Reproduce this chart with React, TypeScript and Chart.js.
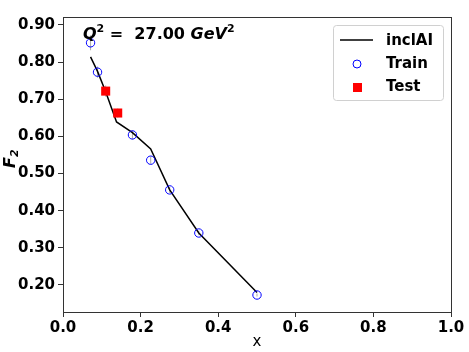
import React, { useEffect, useRef } from "react";
import { Chart, registerables } from "chart.js";

Chart.register(...registerables);

const lineX = [0.071, 0.089, 0.11, 0.138, 0.179, 0.226, 0.275, 0.35, 0.5];
const lineY = [0.814, 0.775, 0.72, 0.639, 0.61, 0.566, 0.456, 0.34, 0.18];

const trainX = [0.071, 0.089, 0.179, 0.226, 0.275, 0.35, 0.5];
const trainY = [0.852, 0.773, 0.604, 0.536, 0.456, 0.34, 0.173];
const trainErr = [0.02, 0.015, 0.012, 0.01, 0.008, 0.006, 0.004];

const testX = [0.11, 0.141];
const testY = [0.722, 0.663];
const testErr = [0.015, 0.012];

const yTicks = [0.2, 0.3, 0.4, 0.5, 0.6, 0.7, 0.8, 0.9];
const xTicks = [0.0, 0.2, 0.4, 0.6, 0.8, 1.0];

const FONT = "'DejaVu Sans', sans-serif";

export default function App() {
  const ref = useRef<HTMLCanvasElement>(null);
  useEffect(() => {
    document.body.style.margin = "0";
    const errPlugin = {
      id: "errs",
      beforeDatasetsDraw(chart: any) {
        const { ctx, scales } = chart;
        const xs = scales.x, ys = scales.y;
        ctx.save();
        ctx.strokeStyle = "#aaaaaa";
        ctx.lineWidth = 1;
        const draw = (X: number[], Y: number[], E: number[]) => {
          X.forEach((x, i) => {
            const px = xs.getPixelForValue(x);
            ctx.beginPath();
            ctx.moveTo(px, ys.getPixelForValue(Y[i] - E[i]));
            ctx.lineTo(px, ys.getPixelForValue(Y[i] + E[i]));
            ctx.stroke();
          });
        };
        draw(trainX, trainY, trainErr);
        draw(testX, testY, testErr);
        ctx.restore();
      },
    };
    const decor = {
      id: "decor",
      afterDraw(chart: any) {
        const { ctx, chartArea: a } = chart;
        ctx.save();
        // frame
        ctx.strokeStyle = "#333";
        ctx.lineWidth = 1;
        ctx.strokeRect(Math.round(a.left) + 0.5, Math.round(a.top) + 0.5, Math.round(a.right - a.left), Math.round(a.bottom - a.top));
        // title
        ctx.fillStyle = "#000";
        ctx.textBaseline = "alphabetic";
        ctx.textAlign = "left";
        let x = a.left + 20;
        const by = a.top + 22;
        const seg = (t: string, f: string, dy = 0) => {
          ctx.font = f;
          ctx.fillText(t, x, by + dy);
          x += ctx.measureText(t).width;
        };
        seg("Q", `italic bold 16px ${FONT}`);
        seg("2", `bold 11px ${FONT}`, -7);
        seg(" =  27.00 ", `bold 16px ${FONT}`);
        seg("GeV", `italic bold 16px ${FONT}`);
        seg("2", `bold 11px ${FONT}`, -7);
        // legend
        const lx = 333, ly = 25, lw = 110, lh = 75;
        ctx.beginPath();
        ctx.strokeStyle = "#d0d0d0";
        ctx.fillStyle = "rgba(255,255,255,0.8)";
        (ctx as any).roundRect(lx + 0.5, ly + 0.5, lw, lh, 3);
        ctx.fill();
        ctx.stroke();
        ctx.fillStyle = "#000";
        ctx.font = `bold 15px ${FONT}`;
        ctx.textBaseline = "middle";
        ctx.fillText("inclAI", 386, 41);
        ctx.fillText("Train", 386, 64);
        ctx.fillText("Test", 386, 87);
        ctx.strokeStyle = "#000";
        ctx.lineWidth = 1.5;
        ctx.beginPath();
        ctx.moveTo(340, 40);
        ctx.lineTo(373, 40);
        ctx.stroke();
        ctx.strokeStyle = "blue";
        ctx.lineWidth = 1;
        ctx.beginPath();
        ctx.arc(357, 64, 4, 0, Math.PI * 2);
        ctx.stroke();
        ctx.fillStyle = "red";
        ctx.fillRect(353, 83, 9, 9);
        // axis labels
        ctx.fillStyle = "#000";
        ctx.textAlign = "center";
        ctx.font = `15px ${FONT}`;
        ctx.fillText("x", (a.left + a.right) / 2, 342);
        ctx.save();
        ctx.translate(11, 160);
        ctx.rotate(-Math.PI / 2);
        ctx.font = `italic bold 16px ${FONT}`;
        ctx.textAlign = "left";
        ctx.fillText("F", -8, 0);
        const fw = ctx.measureText("F").width;
        ctx.font = `italic bold 11px ${FONT}`;
        ctx.fillText("2", -8 + fw, 4);
        ctx.restore();
        ctx.restore();
      },
    };
    const chart = new Chart(ref.current!, {
      type: "scatter",
      data: {
        datasets: [
          {
            label: "inclAI",
            data: lineX.map((x, i) => ({ x, y: lineY[i] })),
            showLine: true,
            borderColor: "#000",
            borderWidth: 1.5,
            pointRadius: 0,
            order: 1,
          },
          {
            label: "Train",
            data: trainX.map((x, i) => ({ x, y: trainY[i] })),
            pointStyle: "circle",
            pointRadius: 4.2,
            borderColor: "blue",
            backgroundColor: "rgba(0,0,0,0)",
            borderWidth: 1,
            order: 0,
          },
          {
            label: "Test",
            data: testX.map((x, i) => ({ x, y: testY[i] })),
            pointStyle: "rect",
            pointRadius: 6.4,
            borderColor: "red",
            backgroundColor: "red",
            borderWidth: 0,
            order: 0,
          },
        ],
      },
      options: {
        animation: false,
        responsive: false,
        layout: { padding: { top: 17, right: 18, left: 0, bottom: 0 } },
        plugins: { legend: { display: false }, tooltip: { enabled: false } },
        scales: {
          x: {
            type: "linear",
            min: 0,
            max: 1,
            afterBuildTicks: (s: any) => {
              s.ticks = xTicks.map((v) => ({ value: v }));
            },
            afterFit: (s: any) => {
              s.height = 40;
            },
            grid: { display: true, drawOnChartArea: false, tickLength: 5, color: "#333" },
            border: { color: "#333" },
            ticks: {
              color: "#000",
              font: { family: FONT, size: 15, weight: "bold" },
              padding: 2,
              maxRotation: 0,
              callback: (v: any) => Number(v).toFixed(1),
            },
          },
          y: {
            type: "linear",
            min: 0.1273,
            max: 0.9215,
            afterBuildTicks: (s: any) => {
              s.ticks = yTicks.map((v) => ({ value: v }));
            },
            afterFit: (s: any) => {
              s.width = 63;
            },
            grid: { display: true, drawOnChartArea: false, tickLength: 5, color: "#333" },
            border: { color: "#333" },
            ticks: {
              color: "#000",
              font: { family: FONT, size: 15, weight: "bold" },
              padding: 3,
              callback: (v: any) => Number(v).toFixed(2),
            },
          },
        },
      },
      plugins: [errPlugin, decor],
    } as any);
    return () => chart.destroy();
  }, []);
  return (
    <div style={{ position: "absolute", left: 0, top: 0, width: 469, height: 352 }}>
      <canvas ref={ref} width={469} height={352} style={{ width: 469, height: 352 }} />
    </div>
  );
}
